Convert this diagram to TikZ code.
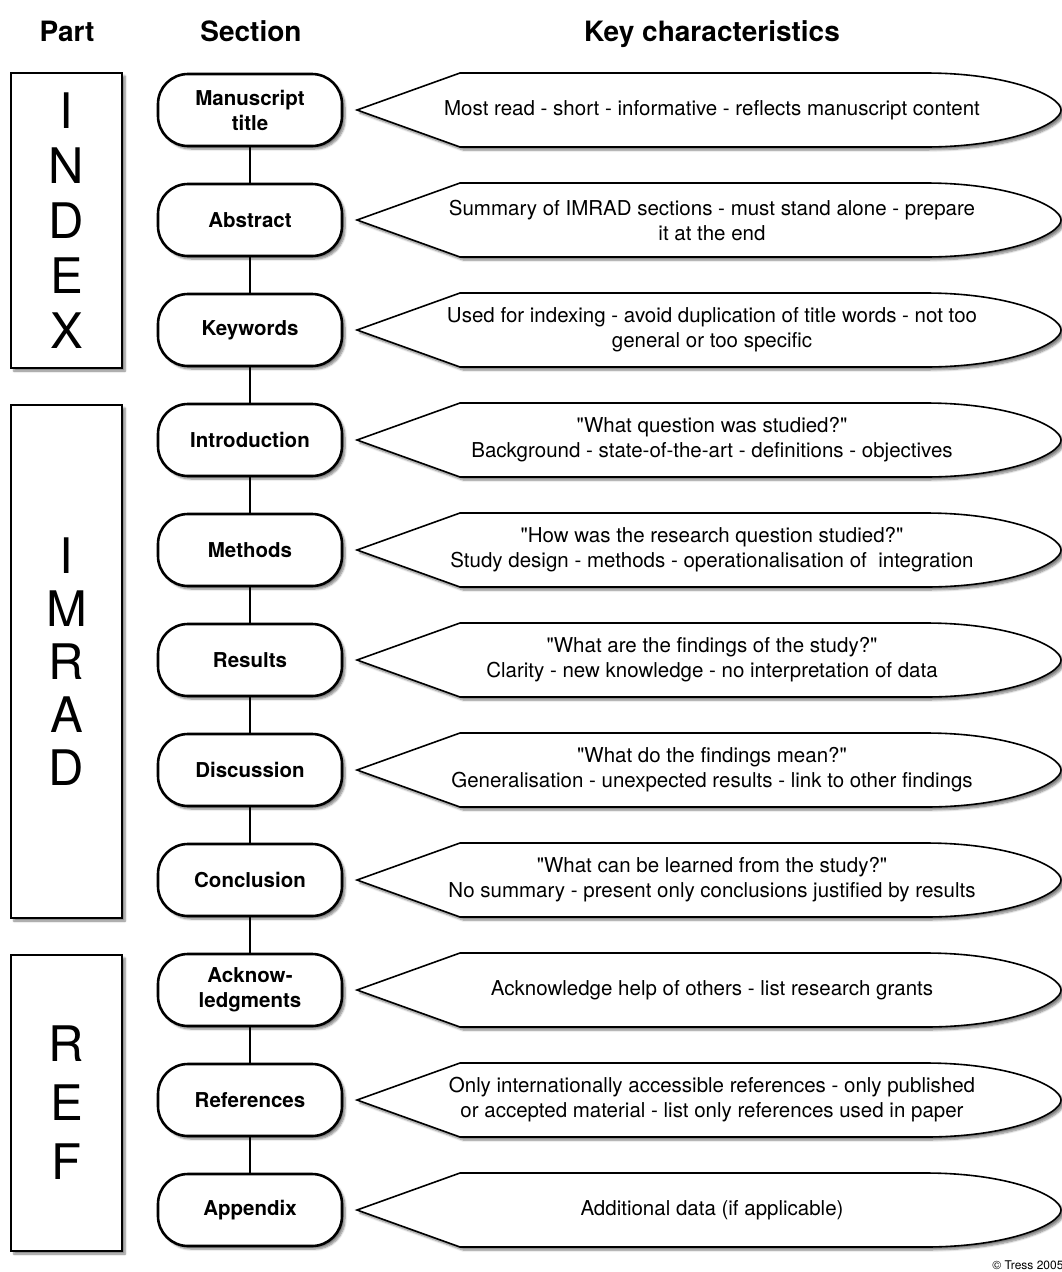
\documentclass[tikz,border=0pt]{standalone}
\usepackage{fontspec}
\setmainfont{TeX Gyre Heros}
\usetikzlibrary{shadows.blur}
\newcommand\Characteristic[3]{%
  \path[keyshape] (357,#2) -- (460,#2-37) -- (925,#2-37)
      .. controls (1010,#2-37) and (1061,#2-14) .. (1061,#2)
      .. controls (1061,#2+14) and (1010,#2+37) .. (925,#2+37)
      -- (460,#2+37) -- cycle;
  \node (#1) [keytext] at (712,#2) {#3};
}
\newcommand\q{\textquotedbl}

\begin{document}
\begin{tikzpicture}[x=1pt, y=-1pt,
                    pill/.style = { draw, line width=2.6pt, fill=white, rounded corners=30pt,
                                    minimum width=184pt, minimum height=72pt, align=center,
                                    font=\fontsize{20.5}{25}\selectfont\bfseries, shade },
                    shade/.style = { blur shadow={shadow xshift=3pt, shadow yshift=-3pt,
                                    shadow blur steps=6, shadow opacity=50} },
                    partbox/.style = { draw, line width=1.6pt, fill=white, minimum width=111pt,
                                    inner sep=0pt, align=center, shade },
                    heading/.style = { anchor=base, font=\fontsize{28}{32}\selectfont\bfseries },
                    keyshape/.style = { draw, line width=1.6pt, fill=white, shade },
                    keytext/.style = { align=center, font=\fontsize{20.5}{25}\selectfont },
                    link/.style = { line width=2.6pt }]
  \useasboundingbox (0,0) rectangle (1062,1272);

  \node (parthead) [heading] at (67, 41)   {Part};
  \node (sectionhead) [heading] at (251, 41)   {Section};
  \node (keyhead) [heading] at (712, 41)   {Key characteristics};

  \node (index) [partbox, minimum height=295pt, font=\fontsize{49}{55}\selectfont] at (66.5, 220.5) {I\\N\\D\\E\\X};
  \node (imrad) [partbox, minimum height=513pt, font=\fontsize{49}{53}\selectfont] at (66.5, 661.5) {I\\M\\R\\A\\D};
  \node (ref) [partbox, minimum height=296pt, font=\fontsize{49}{59}\selectfont] at (66.5, 1103) {R\\E\\F};

  \node (title) [pill] at (250, 110)   {Manuscript\\title};
  \node (abstract) [pill] at (250, 220)   {Abstract};
  \node (keywords) [pill] at (250, 330)   {Keywords};
  \node (intro) [pill] at (250, 440)   {Introduction};
  \node (methods) [pill] at (250, 550)   {Methods};
  \node (results) [pill] at (250, 660)   {Results};
  \node (discussion) [pill] at (250, 770)   {Discussion};
  \node (conclusion) [pill] at (250, 880)   {Conclusion};
  \node (acknow) [pill] at (250, 990)   {Acknow-\\ledgments};
  \node (references) [pill] at (250, 1100)   {References};
  \node (appendix) [pill] at (250, 1210)   {Appendix};

  \draw [link] (title) -- (abstract);
  \draw [link] (abstract) -- (keywords);
  \draw [link] (keywords) -- (intro);
  \draw [link] (intro) -- (methods);
  \draw [link] (methods) -- (results);
  \draw [link] (results) -- (discussion);
  \draw [link] (discussion) -- (conclusion);
  \draw [link] (conclusion) -- (acknow);
  \draw [link] (acknow) -- (references);
  \draw [link] (references) -- (appendix);

  \Characteristic{titlekey}{110}{Most read - short - informative - reflects manuscript content}
  \Characteristic{abstractkey}{220}{Summary of IMRAD sections - must stand alone - prepare\\it at the end}
  \Characteristic{keywordskey}{330}{Used for indexing - avoid duplication of title words - not too\\general or too specific}
  \Characteristic{introkey}{440}{\q What question was studied?\q\\Background - state-of-the-art - definitions - objectives}
  \Characteristic{methodskey}{550}{\q How was the research question studied?\q\\Study design - methods - operationalisation of\ \ integration}
  \Characteristic{resultskey}{660}{\q What are the findings of the study?\q\\Clarity - new knowledge - no interpretation of data}
  \Characteristic{discussionkey}{770}{\q What do the findings mean?\q\\Generalisation - unexpected results - link to other findings}
  \Characteristic{conclusionkey}{880}{\q What can be learned from the study?\q\\No summary - present only conclusions justified by results}
  \Characteristic{acknowkey}{990}{Acknowledge help of others - list research grants}
  \Characteristic{referenceskey}{1100}{Only internationally accessible references - only published\\or accepted material - list only references used in paper}
  \Characteristic{appendixkey}{1210}{Additional data (if applicable)}

  \node (copyright) [anchor=east, font=\fontsize{12}{14}\selectfont] at (1067, 1265) {© Tress 2005};
\end{tikzpicture}
\end{document}
